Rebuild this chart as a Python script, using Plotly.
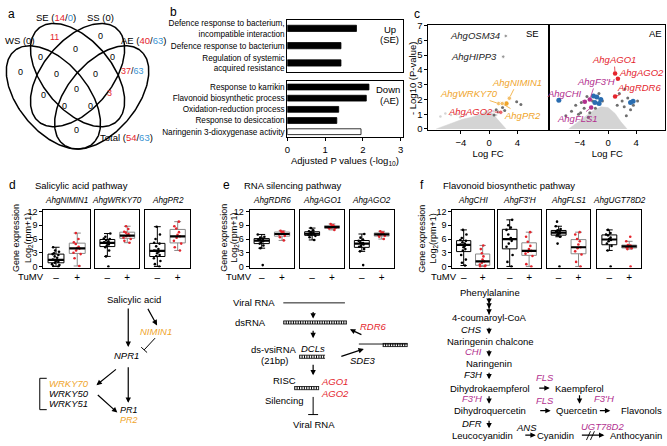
import numpy as np
import plotly.graph_objects as go

W, H = 667, 446
FONT = "Liberation Sans, Arial, Helvetica, sans-serif"
RED = "#e4252d"
BLUE = "#3b95d3"
ORANGE = "#f0a52a"
MAGENTA = "#b2308f"
PTBLUE = "#2a6db0"
DGRAY = "#6f6f6f"
LGRAY = "#d4d4d4"

# ---------------- panel a : Venn counts ----------------
venn_set_names = ["WS", "SE", "SS", "AE", "Total"]
venn_set_up = [0, 14, 0, 40, 54]
venn_set_down = [None, 0, None, 63, 63]
venn_region_up = [11, 0, 0, 0, 0, 0, 0, 0, 37, 0, 0, 3, 0, 0, 0]
venn_region_down = [0, 0, 0, 0, 0, 0, 0, 0, 63, 0, 0, 0, 0, 0, 0]

# ---------------- panel b : GO enrichment ----------------
go_up_terms = ["Defence response to bacterium,<br>incompatible interaction",
               "Defence response to bacterium",
               "Regulation of systemic<br>acquired resistance"]
go_up_values = [1.83, 1.42, 1.42]
go_down_terms = ["Response to karrikin", "Flavonoid biosynthetic process",
                 "Oxidation-reduction process", "Response to desiccation",
                 "Naringenin 3-dioxygenase activity"]
go_down_values = [2.16, 2.09, 1.36, 1.31, 1.95]

# ---------------- panel c : volcano plots ----------------
se_cloud_fc = [-7.5, -5.5, -3.8, -2.5, -1.2, -0.3, 0.4, 1.1, 1.8, 2.4]
se_cloud_p = [0.0, 0.35, 0.65, 0.8, 1.0, 1.25, 1.1, 0.7, 0.3, 0.0]
se_light_fc = [-6.9, -6.2, -5.4, -4.6, -4.1, -3.3, 0.6, 1.0]
se_light_p = [0.85, 1.05, 0.95, 1.0, 0.8, 0.95, 1.2, 0.95]
se_sig_fc = [3.9, 4.5, 1.0, 1.3, 0.7, 2.2, 1.9]
se_sig_p = [1.85, 1.65, 1.3, 1.15, 0.95, 1.25, 1.45]
se_genes = ["AhgOSM34", "AhgHIPP3", "AhgNIMIN1", "AhgWRKY70", "AhgPR2", "AhgAGO2"]
se_gene_fc = [2.35, 2.0, 2.86, 1.35, 1.85, 1.65]
se_gene_p = [6.3, 4.9, 2.08, 1.72, 1.72, 1.13]
se_extra_orange_fc = [2.45]
se_extra_orange_p = [1.72]

ae_cloud_fc = [-5.6, -4.3, -3.1, -2.1, -1.0, 0.0, 1.0, 1.8, 2.7]
ae_cloud_p = [0.0, 0.45, 0.9, 1.25, 1.5, 1.45, 1.05, 0.5, 0.0]
ae_sig_fc = [-6.0, -5.2, -4.6, -4.2, -3.9, -3.8, -3.4, -3.0, -2.8, -2.6, -2.2, -1.8,
             -1.3, -0.8, 1.3, 1.6, 2.0, 2.3, 2.4, 2.6, 2.8, 3.2, 3.6, 4.2]
ae_sig_p = [0.9, 1.2, 1.6, 1.0, 1.1, 1.8, 1.4, 2.2, 0.8, 1.1, 1.9, 1.4,
            2.4, 1.9, 1.6, 2.4, 1.9, 1.5, 2.7, 0.9, 2.1, 1.3, 1.6, 1.9]
ae_down_fc = [-7.0, -2.07, -1.6, -1.03, -1.27, -1.87, 3.2, 3.56]
ae_down_p = [1.94, 2.24, 2.17, 2.0, 1.72, 1.79, 1.79, 1.88]
ae_genes = ["AhgAGO1", "AhgAGO2", "AhgRDR6", "AhgF3'H", "AhgCHI", "AhgFLS1"]
ae_gene_fc = [1.0, 1.4, 1.0, -2.6, -3.3, -2.4]
ae_gene_p = [3.75, 3.4, 2.2, 2.0, 1.85, 1.45]

# ---------------- panels d-f : expression (log2 rpm+1) ----------------
d_genes = ["AhgNIMIN1", "AhgWRKY70", "AhgPR2"]
d_mock = [
    [0.0, 0.1, 0.3, 0.5, 0.8, 1.0, 1.2, 1.4, 1.4, 1.5, 1.9, 2.2, 2.5, 2.7, 2.9, 3.2, 3.5, 4.2],
    [0.0, 2.2, 3.5, 4.2, 4.5, 4.8, 5.0, 5.1, 5.2, 5.3, 5.5, 5.8, 6.0, 6.1, 6.5, 7.2],
    [0.0, 0.5, 1.2, 1.8, 2.3, 2.5, 2.9, 3.2, 3.4, 3.5, 3.8, 4.4, 5.0, 5.2, 6.0, 7.0, 8.7],
]
d_tumv = [
    [0.1, 1.8, 2.7, 3.0, 3.5, 3.9, 4.0, 4.3, 4.9, 5.3, 6.0, 7.3],
    [5.2, 5.6, 6.0, 6.3, 6.6, 6.7, 6.8, 7.1, 7.4, 7.6, 8.2, 8.8],
    [3.5, 4.2, 5.0, 5.6, 6.3, 6.6, 6.9, 7.5, 8.3, 8.8, 9.8],
]
e_genes = ["AhgRDR6", "AhgAGO1", "AhgAGO2"]
e_mock = [
    [0.3, 4.0, 4.6, 5.0, 5.2, 5.5, 5.6, 5.7, 5.8, 5.9, 6.1, 6.3, 6.5, 7.0],
    [5.8, 6.4, 6.7, 6.9, 7.0, 7.1, 7.2, 7.3, 7.5, 7.7, 7.9, 8.4],
    [0.3, 3.3, 3.8, 4.3, 4.5, 4.8, 5.0, 5.1, 5.3, 5.6, 5.9, 6.3, 7.1],
]
e_tumv = [
    [5.7, 6.4, 6.7, 7.0, 7.1, 7.2, 7.5, 7.6, 7.8],
    [8.0, 8.3, 8.4, 8.5, 8.6, 8.7, 8.9, 9.0, 9.3],
    [6.0, 6.5, 6.7, 6.9, 7.0, 7.1, 7.3, 7.4, 7.7],
]
f_genes = ["AhgCHI", "AhgF3'H", "AhgFLS1", "AhgUGT78D2"]
f_mock = [
    [0.2, 0.8, 1.5, 2.5, 3.5, 3.8, 4.2, 4.5, 4.7, 4.8, 5.0, 5.3, 5.6, 5.8, 6.2, 7.0, 8.0],
    [0.0, 1.0, 2.5, 4.3, 5.0, 5.6, 6.0, 6.2, 7.0, 8.0, 8.5, 9.0, 10.2],
    [0.0, 5.0, 6.5, 6.8, 7.0, 7.2, 7.3, 7.4, 7.5, 7.6, 7.8, 7.9, 8.2, 8.8, 9.8],
    [0.0, 3.5, 4.5, 5.0, 5.5, 5.8, 6.0, 6.3, 6.8, 7.0, 7.3, 8.0],
]
f_tumv = [
    [0.0, 0.0, 0.2, 0.4, 0.8, 1.1, 1.5, 2.2, 2.9, 3.8, 4.6],
    [0.0, 0.5, 2.3, 2.8, 3.2, 3.4, 3.8, 4.5, 5.4, 6.5, 7.5],
    [0.0, 1.0, 2.6, 3.3, 4.0, 4.2, 4.8, 5.5, 6.0, 7.0, 7.5],
    [0.0, 3.8, 4.0, 4.2, 4.3, 4.4, 4.5, 4.6, 4.7, 5.5, 6.5],
]
box_ticks = [0, 3, 6, 9, 12]
treat_labels = ["\u2013", "+"]

# =====================================================================
fig = go.Figure()
layout_axes = {}
ann = []
shapes = []


def px2x(px):
    return px / W


def px2y(py):
    return 1 - py / H


def axis_pair(i, x0, x1, y0, y1, xkw, ykw):
    xn = "xaxis" if i == 1 else f"xaxis{i}"
    yn = "yaxis" if i == 1 else f"yaxis{i}"
    xr = "x" if i == 1 else f"x{i}"
    yr = "y" if i == 1 else f"y{i}"
    layout_axes[xn] = dict(domain=[px2x(x0), px2x(x1)], anchor=yr, **xkw)
    layout_axes[yn] = dict(domain=[px2y(y1), px2y(y0)], anchor=xr, **ykw)
    return xr, yr


BASE = dict(showline=True, mirror=True, linecolor="black", linewidth=1, showgrid=False,
            zeroline=False, fixedrange=True, tickfont=dict(family=FONT, size=9, color="black"),
            ticklen=3, tickcolor="black", tickwidth=1)


def base(**kw):
    d = dict(BASE)
    d.update(kw)
    return d


def txt(x, y, s, color="black", size=9.5, xanchor="center", italic=False, angle=0, align="center"):
    if italic:
        s = f"<i>{s}</i>"
    ann.append(dict(x=px2x(x), y=px2y(y), xref="paper", yref="paper", text=s, showarrow=False,
                    font=dict(family=FONT, size=size, color=color), xanchor=xanchor,
                    yanchor="middle", textangle=angle, align=align))


def arrow(x0, y0, x1, y1, width=1.2, head=2, size=0.9, color="black"):
    ann.append(dict(x=px2x(x1), y=px2y(y1), xref="paper", yref="paper", ax=x0 - x1, ay=y0 - y1,
                    axref="pixel", ayref="pixel", showarrow=True, arrowhead=head, arrowsize=size,
                    arrowwidth=width, arrowcolor=color, text="", standoff=0, startstandoff=0))


def line(x0, y0, x1, y1, width=1.0, color="black", dash="solid"):
    shapes.append(dict(type="line", xref="paper", yref="paper", x0=px2x(x0), y0=px2y(y0),
                       x1=px2x(x1), y1=px2y(y1), line=dict(color=color, width=width, dash=dash)))


def inhibit(x0, y0, x1, y1, bar=4.0, width=1.0):
    line(x0, y0, x1, y1, width)
    dx, dy = x1 - x0, y1 - y0
    n = (dx ** 2 + dy ** 2) ** 0.5
    ux, uy = -dy / n, dx / n
    line(x1 - ux * bar, y1 - uy * bar, x1 + ux * bar, y1 + uy * bar, width)


def ladder(x0, x1, y):
    line(x0, y - 1.6, x1, y - 1.6, 0.8)
    line(x0, y + 1.6, x1, y + 1.6, 0.8)
    line(x0, y, x1, y, 3.0, dash="1px,1.4px")


def col(s, c):
    return f"<span style='color:{c}'>{s}</span>"


# ---------------- panel a : Venn ----------------
ov = axis_pair(15, 0, W, 0, H,
               dict(range=[0, W], visible=False, fixedrange=True),
               dict(range=[H, 0], visible=False, fixedrange=True))
venn_cx = [0.35, 0.5, 0.5, 0.65]
venn_cy = [0.45, 0.57, 0.57, 0.45]
venn_rot = [-42, -42, 42, 42]
t = np.linspace(0, 2 * np.pi, 240)
for cx, cy, rot in zip(venn_cx, venn_cy, venn_rot):
    th = np.deg2rad(rot)
    u = cx + 0.35 * np.cos(t) * np.cos(th) - 0.2 * np.sin(t) * np.sin(th)
    v = cy + 0.35 * np.cos(t) * np.sin(th) + 0.2 * np.sin(t) * np.cos(th)
    fig.add_trace(go.Scatter(x=75 + (u - 0.5) * 162, y=147 - (v - 0.1726) * 190, mode="lines",
                             line=dict(color="black", width=1.5), xaxis=ov[0], yaxis=ov[1],
                             hoverinfo="skip"))

venn_region_pos = [(52, 33), (98, 32), (73, 45), (38, 53), (110, 53), (18, 68), (54, 70), (93, 70),
                   (130, 67), (41, 92), (74, 86), (107, 90), (62, 103), (88, 103), (74, 128)]
for (x, y), up, dn in zip(venn_region_pos, venn_region_up, venn_region_down):
    if up == 0 and dn == 0:
        s = "0"
    elif dn == 0:
        s = col(up, RED)
    else:
        s = col(up, RED) + "/" + col(dn, BLUE)
    txt(x, y, s, size=9)


def set_label(i):
    name, up, dn = venn_set_names[i], venn_set_up[i], venn_set_down[i]
    if dn is None:
        return f"{name} ({up})"
    return f"{name} (" + col(up, RED) + "/" + col(dn, BLUE) + ")"


txt(0, 36, set_label(0), xanchor="left")
txt(53, 13, set_label(1))
txt(98, 13, set_label(2))
txt(141, 36, set_label(3))
txt(124, 135, set_label(4))

# ---------------- panel b : bars ----------------
b1 = axis_pair(1, 286, 402, 15, 68,
               base(range=[0, 3.05], showticklabels=False, ticks=""),
               base(autorange="reversed", ticks="", tickfont=dict(family=FONT, size=8.2, color="black")))
b2 = axis_pair(2, 286, 402, 78, 135,
               base(range=[0, 3.05], tickvals=[0, 1, 2, 3], ticks="outside",
                    tickfont=dict(family=FONT, size=9.5, color="black"),
                    title=dict(text="Adjusted P values (-log<sub>10</sub>)",
                               font=dict(family=FONT, size=9.5), standoff=2)),
               base(autorange="reversed", ticks="", tickfont=dict(family=FONT, size=8.2, color="black")))
fig.add_trace(go.Bar(x=go_up_values, y=go_up_terms, orientation="h", width=0.36,
                     marker=dict(color="black", line=dict(color="black", width=0.8)),
                     xaxis=b1[0], yaxis=b1[1]))
fig.add_trace(go.Bar(x=go_down_values, y=go_down_terms, orientation="h", width=0.52,
                     marker=dict(color=["black"] * 4 + ["white"], line=dict(color="black", width=0.8)),
                     xaxis=b2[0], yaxis=b2[1]))
txt(389, 25, "Up", size=9.5)
txt(389, 35, "(SE)", size=9.5)
txt(387, 86, "Down", size=9.5)
txt(389, 97, "(AE)", size=9.5)

# ---------------- panel c : volcano ----------------
vy = dict(range=[-0.1, 7.07], tickvals=list(range(8)), ticks="outside",
          tickfont=dict(family=FONT, size=9.5, color="black"))
vx = dict(tickvals=[-4, 0, 4], ticks="outside", tickfont=dict(family=FONT, size=9.5, color="black"),
          title=dict(text="Log FC", font=dict(family=FONT, size=9.5), standoff=1))
c1 = axis_pair(3, 428, 548, 20, 128, base(range=[-8.6, 8.3], **vx), base(**vy))
vy2 = dict(vy)
vy2.update(showticklabels=False, ticks="")
c2 = axis_pair(4, 550, 666, 20, 128, base(range=[-8.3, 8.1], **vx), base(**vy2))


def sc(ax, x, y, color, size, mode="markers", **kw):
    fig.add_trace(go.Scatter(x=x, y=y, mode=mode, marker=dict(color=color, size=size),
                             xaxis=ax[0], yaxis=ax[1], hoverinfo="skip", **kw))


fig.add_trace(go.Scatter(x=se_cloud_fc, y=se_cloud_p, fill="toself", fillcolor=LGRAY, mode="lines",
                         line=dict(width=0.5, color=LGRAY), xaxis=c1[0], yaxis=c1[1]))
sc(c1, se_light_fc, se_light_p, LGRAY, 2.5)
sc(c1, se_sig_fc, se_sig_p, DGRAY, 3)
se_cols = [DGRAY, DGRAY, ORANGE, ORANGE, ORANGE, RED]
sc(c1, se_extra_orange_fc, se_extra_orange_p, ORANGE, 4.5)
sc(c1, se_gene_fc, se_gene_p, se_cols, [3.5, 3.5, 4.5, 4.5, 4.5, 4.5])

fig.add_trace(go.Scatter(x=ae_cloud_fc, y=ae_cloud_p, fill="toself", fillcolor=LGRAY, mode="lines",
                         line=dict(width=0.5, color=LGRAY), xaxis=c2[0], yaxis=c2[1]))
sc(c2, ae_sig_fc, ae_sig_p, DGRAY, 3)
sc(c2, ae_down_fc, ae_down_p, PTBLUE, 5)
ae_cols = [RED, RED, RED, MAGENTA, MAGENTA, MAGENTA]
sc(c2, ae_gene_fc, ae_gene_p, ae_cols, 4.5)


def vlabel(ax, x, y, s, color, dx, dy, arrow_on=True, xanchor="center"):
    d = dict(x=x, y=y, xref=ax[0], yref=ax[1], text=f"<i>{s}</i>",
             font=dict(family=FONT, size=9.5, color=color))
    if arrow_on:
        d.update(showarrow=True, ax=dx, ay=dy, arrowhead=0, arrowwidth=0.8, arrowcolor=color,
                 standoff=2)
    else:
        d.update(showarrow=False, xanchor=xanchor, xshift=dx)
    ann.append(d)


vlabel(c1, se_gene_fc[0], se_gene_p[0], se_genes[0], "#222222", -4, 0, False, "right")
vlabel(c1, se_gene_fc[1], se_gene_p[1], se_genes[1], "#222222", -4, 0, False, "right")
vlabel(c1, se_gene_fc[2], se_gene_p[2], se_genes[2], ORANGE, 8, -16)
vlabel(c1, se_gene_fc[3], se_gene_p[3], se_genes[3], ORANGE, -30, -10)
vlabel(c1, se_gene_fc[4], se_gene_p[4], se_genes[4], ORANGE, 20, 12)
vlabel(c1, se_gene_fc[5], se_gene_p[5], se_genes[5], RED, -30, -1)
vlabel(c2, ae_gene_fc[0], ae_gene_p[0], ae_genes[0], RED, -1, -14)
vlabel(c2, ae_gene_fc[1], ae_gene_p[1], ae_genes[1], RED, 24, -6)
vlabel(c2, ae_gene_fc[2], ae_gene_p[2], ae_genes[2], RED, 24, -9)
vlabel(c2, ae_gene_fc[3], ae_gene_p[3], ae_genes[3], MAGENTA, 6, -18)
vlabel(c2, ae_gene_fc[4], ae_gene_p[4], ae_genes[4], MAGENTA, -20, -8)
vlabel(c2, ae_gene_fc[5], ae_gene_p[5], ae_genes[5], MAGENTA, -14, 11)
txt(533, 29, "SE")
txt(656, 29, "AE")
txt(412, 75, "- Log10 (P-value)", angle=-90)

# ---------------- panels d-f : box plots ----------------
box_panels = [
    (d_genes, d_mock, d_tumv, [(40.5, 87.5), (93, 137), (143, 188)]),
    (e_genes, e_mock, e_tumv, [(248, 293), (299, 343), (349, 393)]),
    (f_genes, f_mock, f_tumv, [(452, 494), (498, 541), (547, 591), (598, 642)]),
]
idx = 5
for genes, mock, tumv, spans in box_panels:
    for k, (g, m, tv, (x0, x1)) in enumerate(zip(genes, mock, tumv, spans)):
        first = k == 0
        yk = base(range=[-0.25, 12.4], tickvals=box_ticks, ticks="outside" if first else "",
                  showticklabels=first, tickfont=dict(family=FONT, size=9, color="black"))
        xk = base(range=[-0.6, 1.6], tickvals=[0, 1], ticktext=treat_labels, ticks="",
                  tickfont=dict(family=FONT, size=10, color="black"))
        ax = axis_pair(idx, x0, x1, 209, 268, xk, yk)
        idx += 1
        for pos, vals, lc, mc in ((0, m, "black", "black"), (1, tv, "#8a8a8a", RED)):
            fig.add_trace(go.Box(y=vals, x=[pos] * len(vals), width=0.75, boxpoints="all",
                                 jitter=0.6, pointpos=0, whiskerwidth=0.45,
                                 marker=dict(color=mc, size=2.6), line=dict(color=lc, width=1),
                                 fillcolor="rgba(0,0,0,0)", xaxis=ax[0], yaxis=ax[1],
                                 hoverinfo="skip"))
            med = float(np.median(vals))
            fig.add_trace(go.Scatter(x=[pos - 0.375, pos + 0.375], y=[med, med], mode="lines",
                                     line=dict(color="black", width=2.2), xaxis=ax[0], yaxis=ax[1],
                                     hoverinfo="skip"))
        txt((x0 + x1) / 2, 200, g, italic=True, size=8.2)

for gx, lx, tx in ((13, 25, 28), (223, 233, 237), (422, 433, 444)):
    txt(gx, 238, "Gene expression", angle=-90, size=9)
    txt(lx, 238, "Log<sub>2</sub>(rpm+1)", angle=-90, size=9)
    txt(tx, 277, "TuMV", size=9.5)

# ---------------- panel letters & titles ----------------
for x, y, s in ((9, 9, "a"), (172, 7, "b"), (416, 9, "c"), (10, 184, "d"), (225, 184, "e"), (422, 184, "f")):
    txt(x, y, s, size=12)
txt(30, 184, "Salicylic acid pathway", xanchor="left")
txt(240, 184, "RNA silencing pathway", xanchor="left")
txt(441, 184, "Flavonoid biosynthetic pathway", xanchor="left")

# ---------------- pathway d ----------------
txt(132, 301, "Salicylic acid")
arrow(126, 309, 126, 349)
arrow(145, 309, 155, 327)
txt(154, 333, "NIMIN1", ORANGE, italic=True)
inhibit(153, 340, 142, 352)
txt(124, 358, "NPR1", italic=True)
arrow(115, 371, 94, 388)
arrow(126, 369, 126, 406)
line(37, 381, 37, 413)
line(37, 381, 44, 381)
line(37, 413, 44, 413)
txt(66, 386, "WRKY70", ORANGE, italic=True)
txt(66, 397, "WRKY50", italic=True)
txt(66, 407, "WRKY51", italic=True)
arrow(94, 397, 115, 416)
txt(127, 413, "PR1", italic=True, size=9)
txt(127, 424, "PR2", ORANGE, italic=True, size=9)

# ---------------- pathway e ----------------
txt(253, 304, "Viral RNA")
line(282, 304, 344, 304, 0.9)
arrow(312, 312, 312, 320)
txt(249, 324, "dsRNA")
ladder(282, 346, 324)
arrow(312, 331, 312, 340)
txt(273, 352, "ds-vsiRNA")
txt(273, 363, "(21bp)")
txt(312, 351, "DCLs", italic=True)
ladder(298, 324, 359)
arrow(312, 366, 312, 378)
txt(283, 383, "RISC")
ladder(293, 318, 391)
txt(334, 384, "AGO1", RED, italic=True)
txt(334, 396, "AGO2", RED, italic=True)
txt(283, 404, "Silencing")
inhibit(312, 400, 312, 418, bar=5)
txt(313, 428, "Viral RNA")
arrow(339, 359, 363, 351)
txt(362, 363, "SDE3", italic=True)
line(358, 346, 407, 346, 0.9)
ladder(382, 407, 347)
arrow(362, 337, 349, 331)
txt(373, 328, "RDR6", RED, italic=True)

# ---------------- pathway f ----------------
txt(490, 293, "Phenylalanine")
line(489, 299, 489, 316, 1.0)
arrow(489, 300, 489, 305)
arrow(489, 305, 489, 310)
arrow(489, 310, 489, 316)
txt(489, 319, "4-coumaroyl-CoA")
steps = [("CHS", "black", 331, 328, 336), ("CHI", MAGENTA, 354, 351, 359),
         ("F3H", "black", 377, 374, 382), ("F3'H", MAGENTA, 402, 398, 407),
         ("DFR", "black", 427, 423, 432)]
for s, c, ty, a0, a1 in steps:
    txt(484, ty, s, c, italic=True, xanchor="right")
    arrow(489, a0, 489, a1)
txt(490, 343, "Naringenin chalcone")
txt(489, 366, "Naringenin")
txt(490, 391, "Dihydrokaempferol")
arrow(538, 391, 550, 391)
txt(545, 380, "FLS", MAGENTA, italic=True)
txt(580, 391, "Kaempferol")
arrow(580, 397, 580, 407)
txt(605, 402, "F3'H", MAGENTA, italic=True)
txt(490, 414, "Dihydroquercetin")
txt(545, 404, "FLS", MAGENTA, italic=True)
arrow(539, 414, 551, 414)
txt(577, 414, "Quercetin")
arrow(599, 414, 611, 414)
txt(642, 414, "Flavonols")
txt(527, 431, "ANS", italic=True)
txt(603, 430, "UGT78D2", MAGENTA, italic=True)
txt(482, 439, "Leucocyanidin")
arrow(524, 439, 536, 439)
txt(556, 439, "Cyanidin")
arrow(581, 439, 605, 439)
line(587, 444, 591, 435, 0.9)
line(591, 444, 595, 435, 0.9)
txt(637, 439, "Anthocyanin")

fig.update_layout(**layout_axes)
fig.update_layout(width=W, height=H, margin=dict(l=0, r=0, t=0, b=0), showlegend=False,
                  plot_bgcolor="rgba(0,0,0,0)", paper_bgcolor="white", annotations=ann, shapes=shapes,
                  font=dict(family=FONT, size=9, color="black"), bargap=0.3)
fig.write_html("out.html", config={"displayModeBar": False},
               post_script="document.body.style.margin='0px';")
